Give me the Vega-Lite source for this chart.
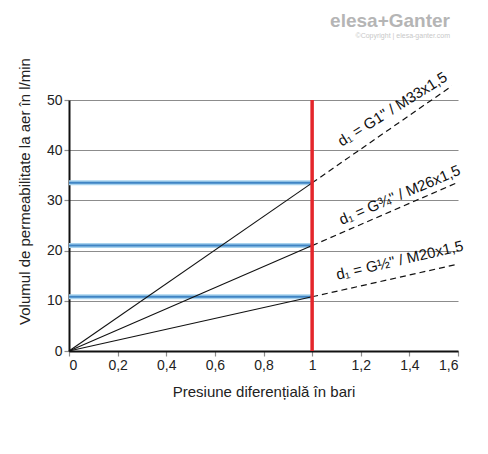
{
  "$schema": "https://vega.github.io/schema/vega-lite/v6.json",
  "width": 389,
  "height": 251,
  "autosize": "none",
  "padding": {"left": 69, "top": 100, "right": 30, "bottom": 103},
  "background": "white",
  "config": {
    "font": "Liberation Sans",
    "view": {"stroke": null},
    "axis": {
      "labelFont": "Liberation Sans",
      "titleFont": "Liberation Sans",
      "labelFontSize": 14,
      "titleFontSize": 15,
      "titleFontWeight": "normal",
      "labelColor": "#222",
      "titleColor": "#222",
      "domainColor": "#111",
      "domainWidth": 2,
      "gridColor": "#8c8c8c",
      "gridWidth": 1.2,
      "gridOpacity": 1,
      "tickColor": "#8c8c8c",
      "tickWidth": 1.2,
      "tickSize": 5
    }
  },
  "title": {
    "text": "elesa+Ganter",
    "subtitle": "©Copyright | elesa-ganter.com",
    "anchor": "end",
    "orient": "top",
    "frame": "group",
    "offset": 19,
    "dx": -8,
    "font": "Liberation Sans",
    "fontSize": 19,
    "fontWeight": "bold",
    "color": "#b5b5b5",
    "subtitleFont": "Liberation Sans",
    "subtitleFontSize": 7,
    "subtitleColor": "#c8c8c8",
    "subtitlePadding": 1
  },
  "layer": [
    {
      "data": {"values": [
        {"flow": 33.5},
        {"flow": 21},
        {"flow": 10.8}
      ]},
      "layer": [
        {
          "mark": {"type": "rule", "color": "#a9d3ee", "strokeWidth": 5},
          "encoding": {
            "x": {"datum": 0, "type": "quantitative"},
            "x2": {"datum": 1},
            "y": {"field": "flow", "type": "quantitative"}
          }
        },
        {
          "mark": {"type": "rule", "color": "#3f84c4", "strokeWidth": 2},
          "encoding": {
            "x": {"datum": 0, "type": "quantitative"},
            "x2": {"datum": 1},
            "y": {"field": "flow", "type": "quantitative"}
          }
        }
      ]
    },
    {
      "data": {"values": [
        {"series": "G1", "p": 0, "q": 0},
        {"series": "G1", "p": 1, "q": 33.5},
        {"series": "G34", "p": 0, "q": 0},
        {"series": "G34", "p": 1, "q": 21},
        {"series": "G12", "p": 0, "q": 0},
        {"series": "G12", "p": 1, "q": 10.8}
      ]},
      "mark": {"type": "line", "color": "#111", "strokeWidth": 1.1},
      "encoding": {
        "x": {
          "field": "p", "type": "quantitative",
          "scale": {"domain": [0, 1.6], "nice": false},
          "axis": {
            "values": [0, 0.2, 0.4, 0.6, 0.8, 1, 1.2, 1.4, 1.6],
            "labelExpr": "replace(format(datum.value, '~g'), '.', ',')",
            "title": "Presiune diferențială în bari",
            "titlePadding": 12,
            "labelPadding": 2
          }
        },
        "y": {
          "field": "q", "type": "quantitative",
          "scale": {"domain": [0, 50], "nice": false},
          "axis": {
            "values": [0, 10, 20, 30, 40, 50],
            "title": "Volumul de permeabilitate la aer în l/min",
            "titlePadding": 14,
            "titleY": 91
          }
        },
        "detail": {"field": "series"}
      }
    },
    {
      "data": {"values": [
        {"series": "G1", "p": 1, "q": 33.5},
        {"series": "G1", "p": 1.575, "q": 52.8},
        {"series": "G34", "p": 1, "q": 21},
        {"series": "G34", "p": 1.595, "q": 33.5},
        {"series": "G12", "p": 1, "q": 10.8},
        {"series": "G12", "p": 1.59, "q": 17.2}
      ]},
      "mark": {"type": "line", "color": "#111", "strokeWidth": 1.2, "strokeDash": [6, 4], "clip": false},
      "encoding": {
        "x": {"field": "p", "type": "quantitative"},
        "y": {"field": "q", "type": "quantitative"},
        "detail": {"field": "series"}
      }
    },
    {
      "data": {"values": [{"p": 1, "lo": 0, "hi": 50}]},
      "mark": {"type": "rule", "color": "#e4262b", "strokeWidth": 3.5},
      "encoding": {
        "x": {"field": "p", "type": "quantitative"},
        "y": {"field": "lo", "type": "quantitative"},
        "y2": {"field": "hi"}
      }
    },
    {
      "data": {"values": [{"label": "d₁ = G1\" / M33x1,5", "p": 1.33, "q": 48.2}]},
      "mark": {"type": "text", "angle": -32, "fontSize": 15, "color": "#111", "clip": false},
      "encoding": {
        "x": {"field": "p", "type": "quantitative"},
        "y": {"field": "q", "type": "quantitative"},
        "text": {"field": "label"}
      }
    },
    {
      "data": {"values": [{"label": "d₁ = G¾\" / M26x1,5", "p": 1.36, "q": 31.1}]},
      "mark": {"type": "text", "angle": -23, "fontSize": 15, "color": "#111", "clip": false},
      "encoding": {
        "x": {"field": "p", "type": "quantitative"},
        "y": {"field": "q", "type": "quantitative"},
        "text": {"field": "label"}
      }
    },
    {
      "data": {"values": [{"label": "d₁ = G½\" / M20x1,5", "p": 1.36, "q": 18.1}]},
      "mark": {"type": "text", "angle": -13, "fontSize": 15, "color": "#111", "clip": false},
      "encoding": {
        "x": {"field": "p", "type": "quantitative"},
        "y": {"field": "q", "type": "quantitative"},
        "text": {"field": "label"}
      }
    }
  ]
}
